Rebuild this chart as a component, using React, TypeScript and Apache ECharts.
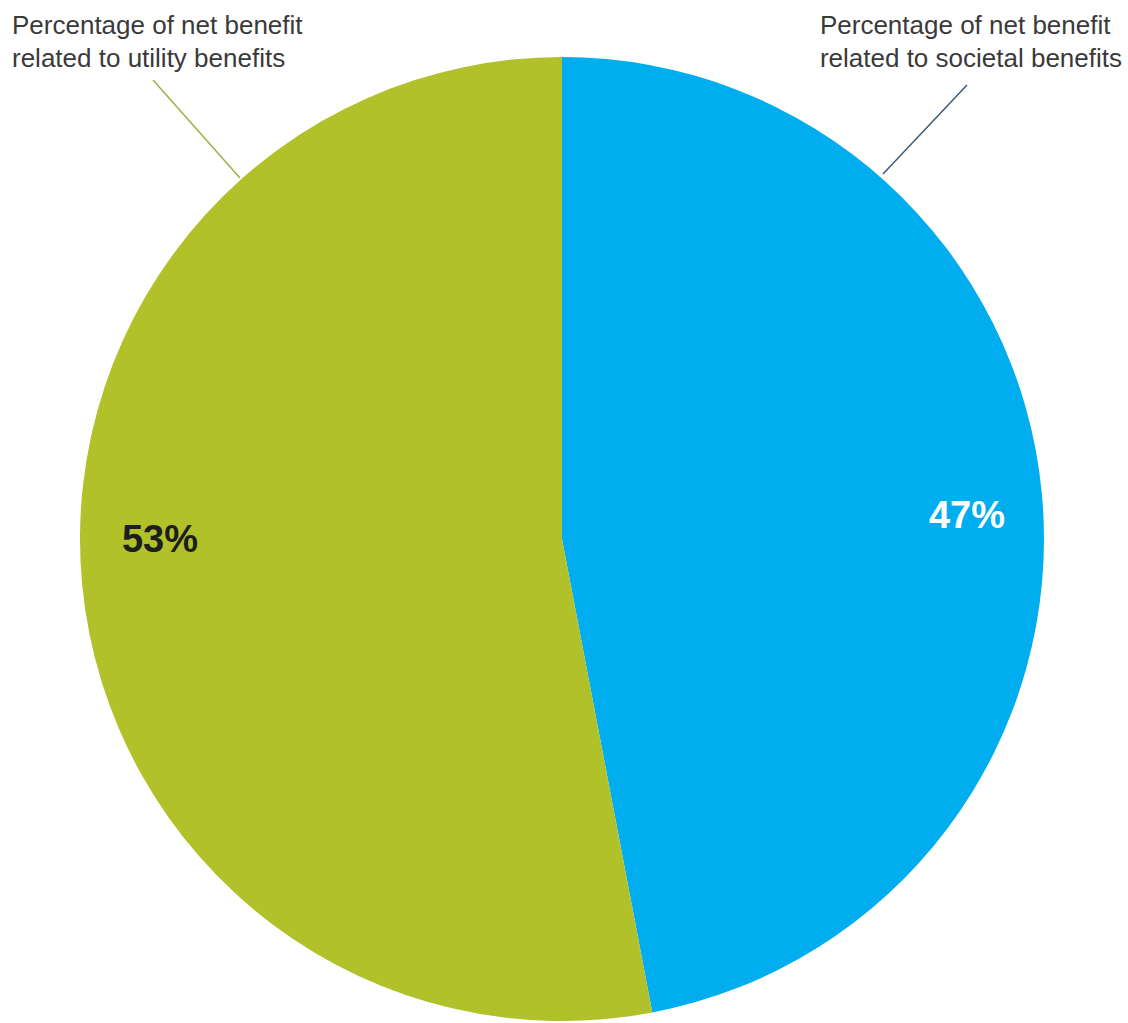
import React, { useEffect, useRef } from "react";
import * as echarts from "echarts";

const categories = [
  "Percentage of net benefit related to societal benefits",
  "Percentage of net benefit related to utility benefits",
];
const categoryLines = [
  ["Percentage of net benefit", "related to societal benefits"],
  ["Percentage of net benefit", "related to utility benefits"],
];
const values = [47, 53];
const colors = ["#00adef", "#b0c12a"];
const percentLabelColors = ["#ffffff", "#1e1e1e"];

export default function App() {
  const ref = useRef<HTMLDivElement>(null);
  useEffect(() => {
    if (!ref.current) return;
    const chart = echarts.init(ref.current, null, { renderer: "svg" });
    const labelPos = [
      [967, 515],
      [160, 539],
    ];
    chart.setOption({
      animation: false,
      backgroundColor: "#ffffff",
      series: [
        {
          type: "pie",
          center: [562, 539],
          radius: [0, 482],
          startAngle: 90,
          clockwise: true,
          silent: true,
          data: categories.map((name, i) => ({
            name,
            value: values[i],
            itemStyle: { color: colors[i] },
            label: { color: percentLabelColors[i] },
          })),
          label: {
            show: true,
            position: "inside",
            formatter: "{c}%",
            fontFamily: "Liberation Sans, Arial, sans-serif",
            fontWeight: "bold",
            fontSize: 38,
          },
          labelLine: { show: false },
          labelLayout: (params: any) => ({
            x: labelPos[params.dataIndex][0],
            y: labelPos[params.dataIndex][1],
            align: "center",
            verticalAlign: "middle",
          }),
        },
      ],
      graphic: [
        {
          type: "text",
          right: 6,
          top: 8,
          style: {
            text: categoryLines[0].join("\n"),
            fontFamily: "Liberation Sans, Arial, sans-serif",
            fontSize: 26,
            lineHeight: 33,
            fill: "#3a3a3a",
            align: "right",
          },
        },
        {
          type: "text",
          left: 12,
          top: 8,
          style: {
            text: categoryLines[1].join("\n"),
            fontFamily: "Liberation Sans, Arial, sans-serif",
            fontSize: 26,
            lineHeight: 33,
            fill: "#3a3a3a",
            align: "left",
          },
        },
        {
          type: "line",
          shape: { x1: 967, y1: 85, x2: 883, y2: 174 },
          style: { stroke: "#3d5a78", lineWidth: 1.5 },
        },
        {
          type: "line",
          shape: { x1: 153, y1: 80, x2: 240, y2: 178 },
          style: { stroke: "#9fae45", lineWidth: 1.5 },
        },
      ],
    });
    return () => chart.dispose();
  }, []);
  return (
    <div
      ref={ref}
      style={{ position: "fixed", left: 0, top: 0, width: 1128, height: 1023 }}
    />
  );
}
